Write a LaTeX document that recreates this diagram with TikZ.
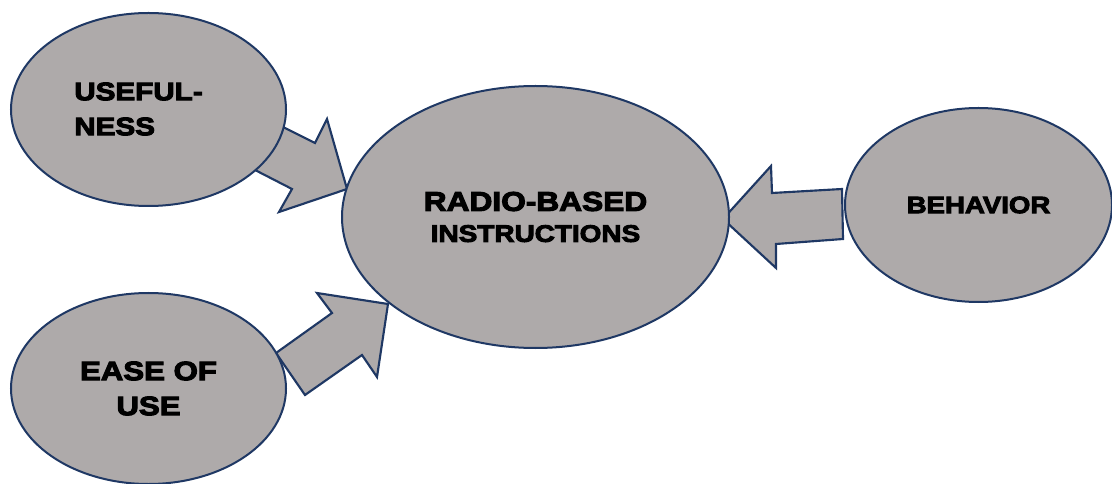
\documentclass[tikz,border=0pt]{standalone}
\usepackage{fontspec}
\usetikzlibrary{shapes.geometric}
\newfontfamily\heavy{Liberation Sans Bold}[FakeStretch=1.17,FakeBold=4]
\definecolor{fillgray}{HTML}{AEAAAA}
\definecolor{edgenavy}{HTML}{1F3864}
\begin{document}
\begin{tikzpicture}[x=0.75pt,y=-0.75pt,
  ell/.style={ellipse,draw=edgenavy,fill=fillgray,line width=1.5pt,inner sep=0pt},
  blockarrow/.style={draw=edgenavy,fill=fillgray,line width=1.6pt,line join=miter},
  lbl/.style={text=black,inner sep=0pt}]
\useasboundingbox (0,0) rectangle (1112,484);
% block arrows (behind ellipses)
\draw[blockarrow] (283,127) -- (315,143) -- (327,119) -- (347,189) -- (279,212) -- (292,189) -- (255,170) -- cycle;
\draw[blockarrow] (276,353) -- (332,313) -- (317,293) -- (388,304) -- (377,377) -- (362,355) -- (305,395) -- cycle;
\draw[blockarrow] (723,219) -- (771,166) -- (772,193) -- (842,189) -- (843,239) -- (776,244) -- (776,268) -- cycle;
% ellipses
\node[ell,minimum width=206.25pt,minimum height=144.75pt] (use) at (148.5,109.5) {};
\node[lbl,align=left,font={\heavy\fontsize{19}{26.25}\selectfont}] (uselbl) at (138.5,109) {USEFUL-\\NESS};
\node[ell,minimum width=206.25pt,minimum height=143.25pt,align=center,font={\heavy\fontsize{20}{26.25}\selectfont}] (ease) at (148.5,388.5) {EASE OF\\USE};
\node[ell,minimum width=290.25pt,minimum height=196.5pt,align=center,font={\heavy\fontsize{20.3}{23.25}\selectfont}] (rbi) at (535.5,217) {RADIO-BASED\\\fontsize{17.9}{23.25}\selectfont INSTRUCTIONS};
\node[ell,minimum width=200.25pt,minimum height=145.5pt,font={\heavy\fontsize{17.7}{22}\selectfont}] (beh) at (978.5,205) {BEHAVIOR};
\end{tikzpicture}
\end{document}
